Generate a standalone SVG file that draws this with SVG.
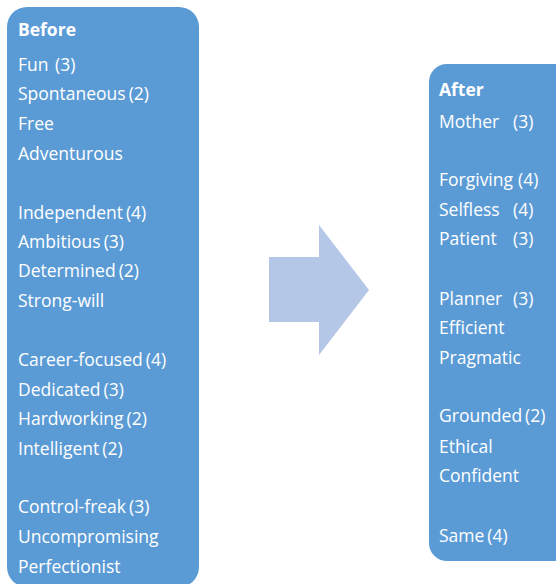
<svg xmlns="http://www.w3.org/2000/svg" width="556" height="584" viewBox="0 0 556 584">
<style>
.box{fill:#5B9BD5;}
.t{font-family:"Open Sans","Liberation Sans",sans-serif;font-size:17.5px;fill:#ffffff;}
.h{font-weight:bold;}
</style>
<rect width="556" height="584" fill="#ffffff"/>
<g id="before">
<rect class="box" x="7" y="7" width="192" height="580" rx="20" ry="20"/>
<text class="t h" x="18" y="36">Before</text>
<text class="t" x="18" y="70.5">Fun<tspan x="55">(3)</tspan></text>
<text class="t" x="18" y="100">Spontaneous<tspan dx="3">(2)</tspan></text>
<text class="t" x="18" y="129.5">Free</text>
<text class="t" x="18" y="159.5">Adventurous</text>
<text class="t" x="18" y="219">Independent<tspan dx="3">(4)</tspan></text>
<text class="t" x="18" y="248">Ambitious<tspan dx="3">(3)</tspan></text>
<text class="t" x="18" y="277">Determined<tspan dx="3">(2)</tspan></text>
<text class="t" x="18" y="307">Strong-will</text>
<text class="t" x="18" y="366">Career-focused<tspan dx="3">(4)</tspan></text>
<text class="t" x="18" y="396">Dedicated<tspan dx="3">(3)</tspan></text>
<text class="t" x="18" y="425">Hardworking<tspan dx="3">(2)</tspan></text>
<text class="t" x="18" y="455">Intelligent<tspan dx="3">(2)</tspan></text>
<text class="t" x="18" y="513">Control-freak<tspan dx="3">(3)</tspan></text>
<text class="t" x="18" y="543">Uncompromising</text>
<text class="t" x="18" y="573">Perfectionist</text>
</g>
<g id="arrow">
<polygon points="269,257 319,257 319,225 369,290 319,355 319,322 269,322" fill="#B4C7E7"/>
</g>
<g id="after">
<rect class="box" x="429" y="64" width="160" height="497" rx="18" ry="18"/>
<text class="t h" x="439" y="96">After</text>
<text class="t" x="439" y="128">Mother<tspan x="513">(3)</tspan></text>
<text class="t" x="439" y="186">Forgiving<tspan dx="5">(4)</tspan></text>
<text class="t" x="439" y="216">Selfless<tspan x="513">(4)</tspan></text>
<text class="t" x="439" y="245">Patient<tspan x="513">(3)</tspan></text>
<text class="t" x="439" y="304.5">Planner<tspan x="513">(3)</tspan></text>
<text class="t" x="439" y="334">Efficient</text>
<text class="t" x="439" y="363.5">Pragmatic</text>
<text class="t" x="439" y="422">Grounded<tspan dx="3">(2)</tspan></text>
<text class="t" x="439" y="452.5">Ethical</text>
<text class="t" x="439" y="481.5">Confident</text>
<text class="t" x="439" y="541.5">Same<tspan dx="3">(4)</tspan></text>
</g>
</svg>
